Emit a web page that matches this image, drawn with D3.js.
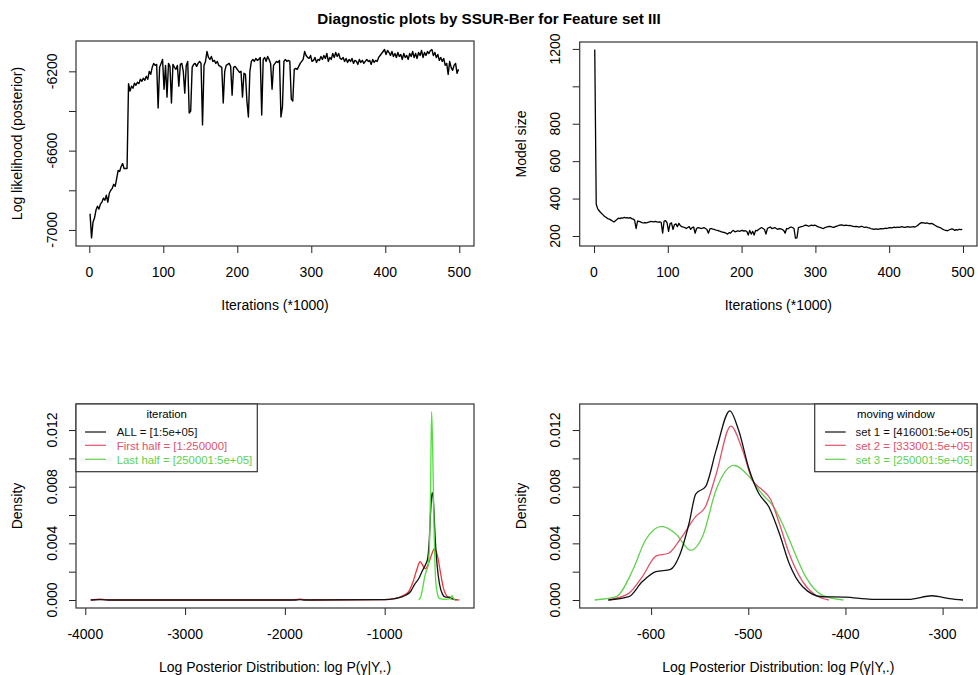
<!DOCTYPE html>
<html><head><meta charset="utf-8">
<script src="https://cdn.jsdelivr.net/npm/d3@7"></script>
<style>
body{margin:0;background:#fff}
text{font-family:"Liberation Sans",Arial,Helvetica,sans-serif;fill:#000}
</style>
</head><body><svg id="c" width="978" height="675"></svg>
<script>
// ---------------- DATA ----------------
const mainTitle = "Diagnostic plots by SSUR-Ber for Feature set III";
// iterations (*1000) for the trace plots: 1,3,5,...,499
const traceStart = 1, traceStep = 2;
const logLik = [
-6918,-7040,-6960,-6940,-6900,-6880,-6895,-6870,-6860,-6840,
-6850,-6825,-6860,-6815,-6800,-6790,-6770,-6780,-6740,-6700,
-6705,-6680,-6665,-6690,-6690,-6690,-6262,-6300,-6275,-6285,
-6260,-6270,-6255,-6262,-6240,-6250,-6235,-6245,-6225,-6240,
-6200,-6215,-6180,-6160,-6170,-6165,-6385,-6180,-6160,-6140,
-6290,-6170,-6330,-6160,-6175,-6360,-6165,-6180,-6190,-6170,
-6275,-6165,-6160,-6200,-6310,-6170,-6150,-6410,-6400,-6180,
-6165,-6160,-6175,-6160,-6150,-6160,-6470,-6170,-6150,-6100,
-6130,-6140,-6125,-6150,-6145,-6160,-6150,-6170,-6175,-6180,
-6360,-6200,-6170,-6165,-6160,-6175,-6320,-6180,-6175,-6185,
-6195,-6205,-6200,-6330,-6210,-6215,-6350,-6430,-6200,-6150,
-6140,-6150,-6135,-6145,-6140,-6130,-6420,-6140,-6130,-6150,
-6125,-6140,-6160,-6290,-6170,-6160,-6150,-6155,-6145,-6430,
-6380,-6150,-6140,-6150,-6145,-6150,-6340,-6350,-6190,-6185,
-6190,-6175,-6160,-6150,-6140,-6100,-6120,-6130,-6135,-6120,
-6150,-6145,-6130,-6155,-6140,-6145,-6125,-6140,-6120,-6135,
-6110,-6150,-6130,-6140,-6110,-6130,-6105,-6125,-6110,-6135,
-6140,-6130,-6150,-6135,-6155,-6140,-6150,-6135,-6160,-6145,
-6150,-6165,-6140,-6155,-6145,-6160,-6150,-6140,-6150,-6145,
-6165,-6140,-6155,-6145,-6150,-6130,-6120,-6110,-6100,-6090,
-6115,-6095,-6105,-6120,-6100,-6125,-6110,-6130,-6105,-6125,
-6115,-6140,-6110,-6130,-6120,-6140,-6110,-6125,-6100,-6130,
-6110,-6135,-6105,-6120,-6095,-6130,-6105,-6120,-6100,-6110,
-6095,-6090,-6120,-6105,-6130,-6115,-6145,-6130,-6150,-6135,
-6170,-6160,-6215,-6150,-6180,-6195,-6170,-6160,-6210,-6190];
const modelSize = [
1197,370,345,335,325,318,310,303,298,292,
290,285,280,275,282,288,295,293,297,295,
300,297,298,295,298,293,290,285,240,280,
278,275,272,270,272,270,273,275,278,277,
275,278,276,274,275,273,215,280,282,270,
225,265,270,235,260,265,250,268,255,250,
248,245,240,245,250,235,245,248,215,240,
245,243,240,242,245,240,235,215,238,240,
237,235,232,230,228,225,222,220,218,215,
210,218,215,225,230,222,225,228,225,228,
230,226,228,225,205,230,210,225,205,230,
228,235,240,245,240,235,210,240,245,248,
240,242,245,240,235,240,238,235,230,215,
240,238,245,248,245,240,188,190,245,248,
250,252,255,258,255,252,255,258,256,258,
255,250,248,245,242,240,245,248,250,252,
250,248,246,250,253,255,258,260,258,256,
258,257,255,256,254,252,250,252,250,248,
250,252,248,246,248,245,243,240,238,236,
237,238,236,238,240,238,240,242,240,243,
245,243,245,247,245,248,246,248,250,248,
246,248,250,248,247,249,250,248,252,258,
265,270,272,270,268,270,268,265,268,265,
260,255,250,248,245,240,235,232,230,228,
232,236,238,235,230,234,232,236,234,236];
const iterTicks = [0,100,200,300,400,500];
const llTicks = [-7000,-6800,-6600,-6400,-6200];
const llTickLabels = ["-7000","","-6600","","-6200"];
const sizeTicks = [200,400,600,800,1000,1200];
const sizeTickLabels = ["200","400","600","800","","1200"];
const densTicks = [0,0.002,0.004,0.006,0.008,0.010,0.012];
const densTickLabels = ["0.000","","0.004","","0.008","","0.012"];
const halfTicks = [-4000,-3000,-2000,-1000];
const windowTicks = [-600,-500,-400,-300];

// density curves, panel 3 (iteration halves)
const allX   = [-3945,-3850,-3750,-3000,-1900,-1850,-1800,-1000,-900,-800,-740,-700,-660,-620,-590,-570,-555,-540,-525,-510,-495,-475,-450,-420,-390,-350,-320,-280];
const allY   = [0,0.00003,0,0,0,0.00003,0,0.00002,0.0001,0.0003,0.0006,0.0011,0.0015,0.0021,0.0025,0.0029,0.004,0.0062,0.0076,0.0068,0.0045,0.0025,0.0011,0.0004,0.0002,0.0002,0.0001,0];
const firstX = [-3945,-3850,-3750,-1950,-1850,-1750,-1000,-900,-820,-760,-720,-680,-645,-615,-590,-560,-530,-500,-470,-440,-410,-380,-340,-290,-252];
const firstY = [0,0.00006,0,0,0.00006,0,0.00003,0.0001,0.0003,0.0006,0.0012,0.0021,0.0027,0.0024,0.0022,0.0026,0.0032,0.00365,0.0031,0.0019,0.0008,0.0003,0.0001,0.00002,0];
const lastX  = [-660,-640,-620,-600,-580,-565,-550,-540,-530,-520,-505,-490,-470,-450,-400,-340,-325,-310,-290];
const lastY  = [0,0.0002,0.0008,0.0016,0.0021,0.0024,0.004,0.008,0.0133,0.011,0.005,0.0015,0.0004,0.0001,0.00005,0.0001,0.0003,0.0001,0];
// density curves, panel 4 (moving window)
const set1X = [-644,-623,-609,-595,-580,-571,-561,-554,-544,-533,-519,-510,-499,-489,-479,-468,-458,-444,-424,-400,-373,-335,-311,-293,-279];
const set1Y = [0,0.00023,0.0013,0.002,0.00216,0.0031,0.0054,0.0075,0.008,0.0106,0.01336,0.012,0.0092,0.0075,0.0066,0.0047,0.0026,0.00094,0.00023,0.0002,0.00005,0.00005,0.0003,0.0001,0];
const set2X = [-644,-623,-609,-595,-582,-568,-554,-544,-533,-518,-506,-496,-486,-477,-468,-458,-444,-431,-417];
const set2Y = [0,0.00047,0.00165,0.0031,0.0033,0.0045,0.0059,0.0066,0.0089,0.01228,0.0106,0.0085,0.0078,0.0071,0.0054,0.0033,0.0013,0.00035,0];
const set3X = [-658,-636,-619,-606,-589,-575,-559,-547,-533,-515,-499,-486,-475,-465,-455,-441,-424,-402];
const set3Y = [0,0.00023,0.0021,0.0042,0.0052,0.0047,0.0035,0.0045,0.0078,0.0095,0.0087,0.0075,0.0067,0.0054,0.0038,0.00165,0.00035,0];

const legend1Title = "iteration";
const legend1Labels = ["ALL = [1:5e+05]","First half = [1:250000]","Last half = [250001:5e+05]"];
const legend2Title = "moving window";
const legend2Labels = ["set 1 = [416001:5e+05]","set 2 = [333001:5e+05]","set 3 = [250001:5e+05]"];

// ---------------- DRAW ----------------
const svg = d3.select("#c");
const FONT = 14;

svg.append("text").attr("x",489).attr("y",23.5).attr("text-anchor","middle")
  .style("font-size","15.2px").style("font-weight","bold").text(mainTitle);

function panel(o){
  const x = d3.scaleLinear().domain(o.xDom).range([o.left,o.right]);
  const y = d3.scaleLinear().domain(o.yDom).range([o.bottom,o.top]);
  const g = svg.append("g");
  g.append("g").attr("transform",`translate(0,${o.bottom})`)
    .call(d3.axisBottom(x).tickValues(o.xTicks).tickSize(7).tickFormat(""))
    .call(s=>{s.select(".domain").remove(); s.selectAll("line").attr("stroke","#222");});
  g.selectAll(".xl").data(o.xTicks).join("text").attr("class","xl")
    .attr("x",d=>x(d)).attr("y",o.bottom+31).attr("text-anchor","middle")
    .style("font-size",FONT+"px").text(d=>String(d));
  g.append("g").attr("transform",`translate(${o.left},0)`)
    .call(d3.axisLeft(y).tickValues(o.yTicks).tickSize(7).tickFormat(""))
    .call(s=>{s.select(".domain").remove(); s.selectAll("line").attr("stroke","#222");});
  g.selectAll(".yl").data(o.yTicks).join("text").attr("class","yl")
    .attr("transform",(d)=>`translate(${o.left-19.5},${y(d)}) rotate(-90)`)
    .attr("text-anchor","middle").style("font-size",FONT+"px")
    .text((d,i)=>o.yLabels[i]);
  g.append("text").attr("x",(o.left+o.right)/2).attr("y",o.bottom+64)
    .attr("text-anchor","middle").style("font-size",FONT+"px").text(o.xTitle);
  g.append("text").attr("transform",`translate(${o.left-54},${(o.top+o.bottom)/2}) rotate(-90)`)
    .attr("text-anchor","middle").style("font-size",FONT+"px").text(o.yTitle);
  const id = "clip"+Math.round(o.left)+"_"+Math.round(o.top);
  svg.append("clipPath").attr("id",id).append("rect")
    .attr("x",o.left).attr("y",o.top).attr("width",o.right-o.left).attr("height",o.bottom-o.top);
  const plot = g.append("g").attr("clip-path",`url(#${id})`);
  g.append("rect").attr("x",o.left).attr("y",o.top).attr("width",o.right-o.left)
    .attr("height",o.bottom-o.top).attr("fill","none").attr("stroke","#333").attr("stroke-width",1.2);
  return {x,y,g,plot};
}

const traceX = (d,i)=>traceStart+i*traceStep;

const p1 = panel({left:76,right:474,top:41,bottom:246,xDom:[-18,519.9],yDom:[-7081,-6047],
  xTicks:iterTicks,yTicks:llTicks,yLabels:llTickLabels,xTitle:"Iterations (*1000)",
  yTitle:"Log likelihood (posterior)"});
p1.plot.append("path").datum(logLik)
  .attr("d",d3.line().x((d,i)=>p1.x(traceX(d,i))).y(d=>p1.y(d)))
  .attr("fill","none").attr("stroke","#000").attr("stroke-width",1.4).attr("stroke-linejoin","round");

const p2 = panel({left:579.7,right:977,top:42,bottom:246,xDom:[-19.4,519],yDom:[146.5,1237],
  xTicks:iterTicks,yTicks:sizeTicks,yLabels:sizeTickLabels,xTitle:"Iterations (*1000)",
  yTitle:"Model size"});
p2.plot.append("path").datum(modelSize)
  .attr("d",d3.line().x((d,i)=>p2.x(traceX(d,i))).y(d=>p2.y(d)))
  .attr("fill","none").attr("stroke","#000").attr("stroke-width",1.3).attr("stroke-linejoin","round");

const p3 = panel({left:76,right:474,top:404,bottom:608,xDom:[-4093,-105],yDom:[-0.000565,0.01384],
  xTicks:halfTicks,yTicks:densTicks,yLabels:densTickLabels,
  xTitle:"Log Posterior Distribution: log P(\u03B3|Y,.)",yTitle:"Density"});
function curve(p,xs,ys,col){
  p.plot.append("path").datum(xs.map((v,i)=>[v,ys[i]]))
    .attr("d",d3.line().x(d=>p.x(d[0])).y(d=>p.y(d[1])).curve(d3.curveMonotoneX))
    .attr("fill","none").attr("stroke",col).attr("stroke-width",1.3);
}
curve(p3,firstX,firstY,"#F0353B");
curve(p3,allX,allY,"#111");
curve(p3,lastX,lastY,"#4FE03A");

const p4 = panel({left:579.7,right:977,top:404,bottom:608,xDom:[-673.5,-264.6],yDom:[-0.000565,0.01384],
  xTicks:windowTicks,yTicks:densTicks,yLabels:densTickLabels,
  xTitle:"Log Posterior Distribution: log P(\u03B3|Y,.)",yTitle:"Density"});
curve(p4,set3X,set3Y,"#61D04F");
curve(p4,set2X,set2Y,"#DF536B");
curve(p4,set1X,set1Y,"#111");

const legCols = ["#111","#DF536B","#61D04F"];
function legend(x0,x1,y0,y1,title,labels,lineX0,lineX1,textX){
  const g = svg.append("g");
  g.append("rect").attr("x",x0).attr("y",y0).attr("width",x1-x0).attr("height",y1-y0)
    .attr("fill","#fff").attr("stroke","#333").attr("stroke-width",1.2);
  g.append("text").attr("x",(x0+x1)/2).attr("y",y0+14).attr("text-anchor","middle")
    .style("font-size","11.4px").text(title);
  const ys=[432,445.3,459.3];
  labels.forEach((t,i)=>{
    g.append("line").attr("x1",lineX0).attr("x2",lineX1).attr("y1",ys[i]).attr("y2",ys[i])
      .attr("stroke",legCols[i]).attr("stroke-width",1.2);
    g.append("text").attr("x",textX).attr("y",ys[i]+4.2).style("font-size","11.4px")
      .style("fill",legCols[i]).text(t);
  });
}
legend(76,257.3,404,471.7,legend1Title,legend1Labels,85,106,116.7);
legend(814.7,977,404,471.7,legend2Title,legend2Labels,825,845.7,855.5);
</script>
</body></html>
